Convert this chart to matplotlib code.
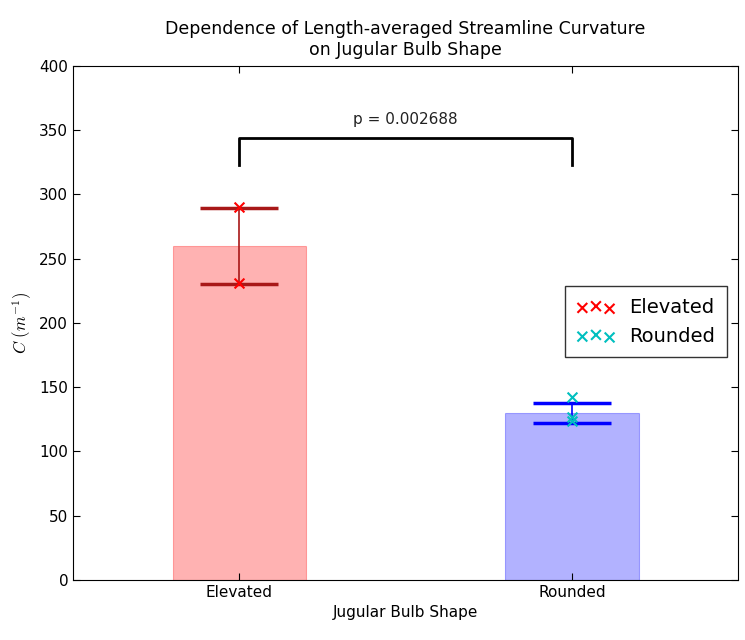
import numpy as np
import matplotlib
matplotlib.use('Agg')
import matplotlib.pyplot as plt

# datos
categorias = ['Elevated', 'Rounded']
medias = [260, 130]
errores = [29.5, 7.8]
puntos_elevated = [290, 231]
puntos_rounded = [142, 127, 124]
p_valor = 0.002688

plt.rcParams['mathtext.fontset'] = 'cm'

fig = plt.figure(figsize=(7.45, 6.4), dpi=100)
ax = fig.add_axes([0.098, 0.094, 0.893, 0.803])

x = np.arange(len(categorias))
colores_barra = ['red', 'blue']
colores_err = ['#a81818', 'blue']

ax.bar(x, medias, width=0.4, color=colores_barra, alpha=0.3, edgecolor=colores_barra, linewidth=0.8)

for i in range(len(categorias)):
    ax.errorbar(x[i], medias[i], yerr=errores[i], color=colores_err[i], capsize=28,
                capthick=2.5, elinewidth=1.2, fmt='none')

ax.scatter([0] * len(puntos_elevated), puntos_elevated, marker='x', color='red', s=50,
           linewidths=1.5, label='Elevated', zorder=3)
ax.scatter([1] * len(puntos_rounded), puntos_rounded, marker='x', color='c', s=50,
           linewidths=1.5, label='Rounded', zorder=3)

# corchete de significancia
ax.plot([0, 0, 1, 1], [323, 344, 344, 323], color='black', linewidth=2)
ax.text(0.5, 358, 'p = %.6f' % p_valor, ha='center', va='center', fontsize=11, color='#222222')

ax.set_xlim(-0.5, 1.5)
ax.set_ylim(0, 400)
ax.set_xticks(x)
ax.set_xticklabels(categorias, fontsize=11)
ax.set_yticks(np.arange(0, 401, 50))
ax.tick_params(axis='y', labelsize=11)
ax.tick_params(direction='in', top=True, right=True, length=5)
ax.set_xlabel('Jugular Bulb Shape', fontsize=11)
ax.set_ylabel(r'$C\ (m^{-1})$', fontsize=12)
ax.set_title('Dependence of Length-averaged Streamline Curvature\non Jugular Bulb Shape',
             fontsize=12.5, pad=8)

ax.legend(loc='center right', bbox_to_anchor=(0.997, 0.502), scatterpoints=3,
          scatteryoffsets=[0.375, 0.5, 0.3125], fontsize=14, handletextpad=0.7,
          borderpad=0.6, labelspacing=0.5, fancybox=False, edgecolor='black')

plt.savefig('out.png', dpi=100)
